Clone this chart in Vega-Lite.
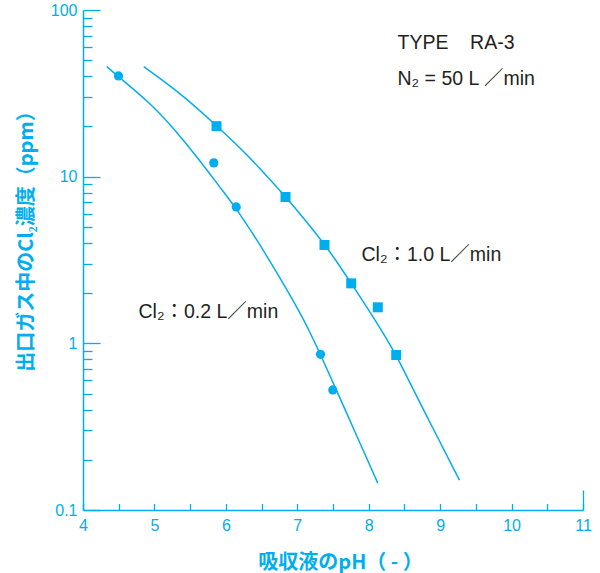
{
  "$schema": "https://vega.github.io/schema/vega-lite/v6.json",
  "width": 500,
  "height": 500,
  "autosize": {"type": "none"},
  "padding": {"left": 83, "top": 10, "right": 17, "bottom": 63},
  "background": "white",
  "config": {"view": {"stroke": null}, "axis": {"grid": false}},
  "datasets": {
    "curves": [
      {"series": "0.2", "pH": 4.333, "ppm": 45.7},
      {"series": "0.2", "pH": 4.497, "ppm": 39.8},
      {"series": "0.2", "pH": 4.931, "ppm": 27.9},
      {"series": "0.2", "pH": 5.257, "ppm": 19.8},
      {"series": "0.2", "pH": 5.631, "ppm": 12.6},
      {"series": "0.2", "pH": 5.911, "ppm": 8.7},
      {"series": "0.2", "pH": 6.145, "ppm": 6.45},
      {"series": "0.2", "pH": 6.425, "ppm": 4.25},
      {"series": "0.2", "pH": 6.751, "ppm": 2.5},
      {"series": "0.2", "pH": 7.031, "ppm": 1.55},
      {"series": "0.2", "pH": 7.147, "ppm": 1.24},
      {"series": "0.2", "pH": 7.325, "ppm": 0.86},
      {"series": "0.2", "pH": 7.637, "ppm": 0.43},
      {"series": "0.2", "pH": 8.127, "ppm": 0.145},
      {"series": "1.0", "pH": 4.851, "ppm": 45.7},
      {"series": "1.0", "pH": 5.397, "ppm": 30.9},
      {"series": "1.0", "pH": 5.865, "ppm": 20.3},
      {"series": "1.0", "pH": 6.191, "ppm": 15.0},
      {"series": "1.0", "pH": 6.447, "ppm": 11.6},
      {"series": "1.0", "pH": 6.835, "ppm": 7.6},
      {"series": "1.0", "pH": 7.125, "ppm": 5.4},
      {"series": "1.0", "pH": 7.381, "ppm": 3.93},
      {"series": "1.0", "pH": 7.591, "ppm": 2.93},
      {"series": "1.0", "pH": 7.755, "ppm": 2.29},
      {"series": "1.0", "pH": 8.011, "ppm": 1.56},
      {"series": "1.0", "pH": 8.267, "ppm": 1.04},
      {"series": "1.0", "pH": 8.385, "ppm": 0.851},
      {"series": "1.0", "pH": 8.805, "ppm": 0.37},
      {"series": "1.0", "pH": 9.271, "ppm": 0.151}
    ],
    "points": [
      {"series": "0.2", "pH": 4.497, "ppm": 40.2},
      {"series": "0.2", "pH": 5.831, "ppm": 12.1},
      {"series": "0.2", "pH": 6.145, "ppm": 6.58},
      {"series": "0.2", "pH": 7.325, "ppm": 0.859},
      {"series": "0.2", "pH": 7.497, "ppm": 0.525},
      {"series": "1.0", "pH": 5.869, "ppm": 20.1},
      {"series": "1.0", "pH": 6.835, "ppm": 7.55},
      {"series": "1.0", "pH": 7.381, "ppm": 3.89},
      {"series": "1.0", "pH": 7.755, "ppm": 2.29},
      {"series": "1.0", "pH": 8.127, "ppm": 1.645},
      {"series": "1.0", "pH": 8.385, "ppm": 0.851}
    ],
    "labels": [
      {"label": "TYPE\u00a0\u00a0\u00a0\u00a0RA-3", "pH": 8.403, "ppm": 58.3},
      {"label": "N₂ = 50 L ／min", "pH": 8.403, "ppm": 35.5},
      {"label": "Cl₂：1.0 L／min", "pH": 7.899, "ppm": 3.12},
      {"label": "Cl₂：0.2 L／min", "pH": 4.777, "ppm": 1.42}
    ]
  },
  "resolve": {"axis": {"x": "independent", "y": "independent"}},
  "layer": [
    {
      "data": {"name": "curves"},
      "mark": {"type": "line", "interpolate": "basis", "color": "#00aeef", "strokeWidth": 1.5},
      "encoding": {
        "x": {
          "field": "pH", "type": "quantitative",
          "scale": {"domain": [4, 11], "nice": false, "zero": false},
          "axis": {
            "orient": "bottom",
            "values": [4, 4.5, 5, 5.5, 6, 6.5, 7, 7.5, 8, 8.5, 9, 9.5, 10, 10.5, 11],
            "labelExpr": "datum.value % 1 == 0 ? format(datum.value, 'd') : ''",
            "tickSize": -6.5, "tickWidth": 1.3, "tickColor": "#00aeef",
            "domainColor": "#00aeef", "domainWidth": 1.5,
            "labelColor": "#00aeef", "labelFont": "Liberation Sans", "labelFontSize": 16,
            "labelPadding": 14, "labelFlush": false, "labelOverlap": false,
            "title": "吸収液のpH（ - ）",
            "titleFont": "Noto Sans CJK JP", "titleFontWeight": "bold", "titleFontSize": 20,
            "titleColor": "#00aeef", "titleX": 257, "titleY": 58,
            "titleAlign": "center", "titleBaseline": "alphabetic", "titleAnchor": null
          }
        },
        "y": {
          "field": "ppm", "type": "quantitative",
          "scale": {"type": "log", "domain": [0.1, 100], "nice": false},
          "axis": {
            "orient": "left",
            "values": [0.1, 1, 10, 100],
            "labelExpr": "datum.value == 100 ? '100' : datum.value == 10 ? '10' : datum.value == 1 ? '1' : '0.1'",
            "tickSize": -17, "tickWidth": 1.3, "tickColor": "#00aeef",
            "domainColor": "#00aeef", "domainWidth": 1.5,
            "labelColor": "#00aeef", "labelFont": "Liberation Sans", "labelFontSize": 16,
            "labelPadding": 23, "labelFlush": false, "labelOverlap": false,
            "title": "出口ガス中のCl₂濃度（ppm）",
            "titleFont": "Noto Sans CJK JP", "titleFontWeight": "bold", "titleFontSize": 20,
            "titleColor": "#00aeef", "titleX": -51, "titleY": 226,
            "titleAlign": "center", "titleBaseline": "alphabetic", "titleAngle": -90
          }
        },
        "detail": {"field": "series"}
      }
    },
    {
      "data": {"name": "points"},
      "mark": {"type": "point", "filled": true, "color": "#00aeef", "opacity": 1},
      "encoding": {
        "x": {
          "field": "pH", "type": "quantitative",
          "axis": {
            "orient": "bottom", "values": [11], "tickSize": -20, "tickWidth": 1.3,
            "tickColor": "#00aeef", "domain": false, "labels": false, "title": null
          }
        },
        "y": {
          "field": "ppm", "type": "quantitative",
          "axis": {
            "orient": "left",
            "values": [0.2, 0.3, 0.4, 0.5, 0.6, 0.7, 0.8, 0.9, 2, 3, 4, 5, 6, 7, 8, 9, 20, 30, 40, 50, 60, 70, 80, 90],
            "tickSize": -9, "tickWidth": 1.3, "tickColor": "#00aeef",
            "domain": false, "labels": false, "title": null
          }
        },
        "shape": {"field": "series", "scale": {"domain": ["0.2", "1.0"], "range": ["circle", "square"]}, "legend": null},
        "size": {"field": "series", "scale": {"domain": ["0.2", "1.0"], "range": [85, 100]}, "legend": null}
      }
    },
    {
      "data": {"name": "labels"},
      "mark": {"type": "text", "align": "left", "baseline": "alphabetic", "font": "Liberation Sans, Noto Sans CJK JP", "fontSize": 19.5, "color": "#231f20"},
      "encoding": {
        "x": {"field": "pH", "type": "quantitative", "axis": null},
        "y": {"field": "ppm", "type": "quantitative", "axis": null},
        "text": {"field": "label"}
      }
    }
  ]
}
